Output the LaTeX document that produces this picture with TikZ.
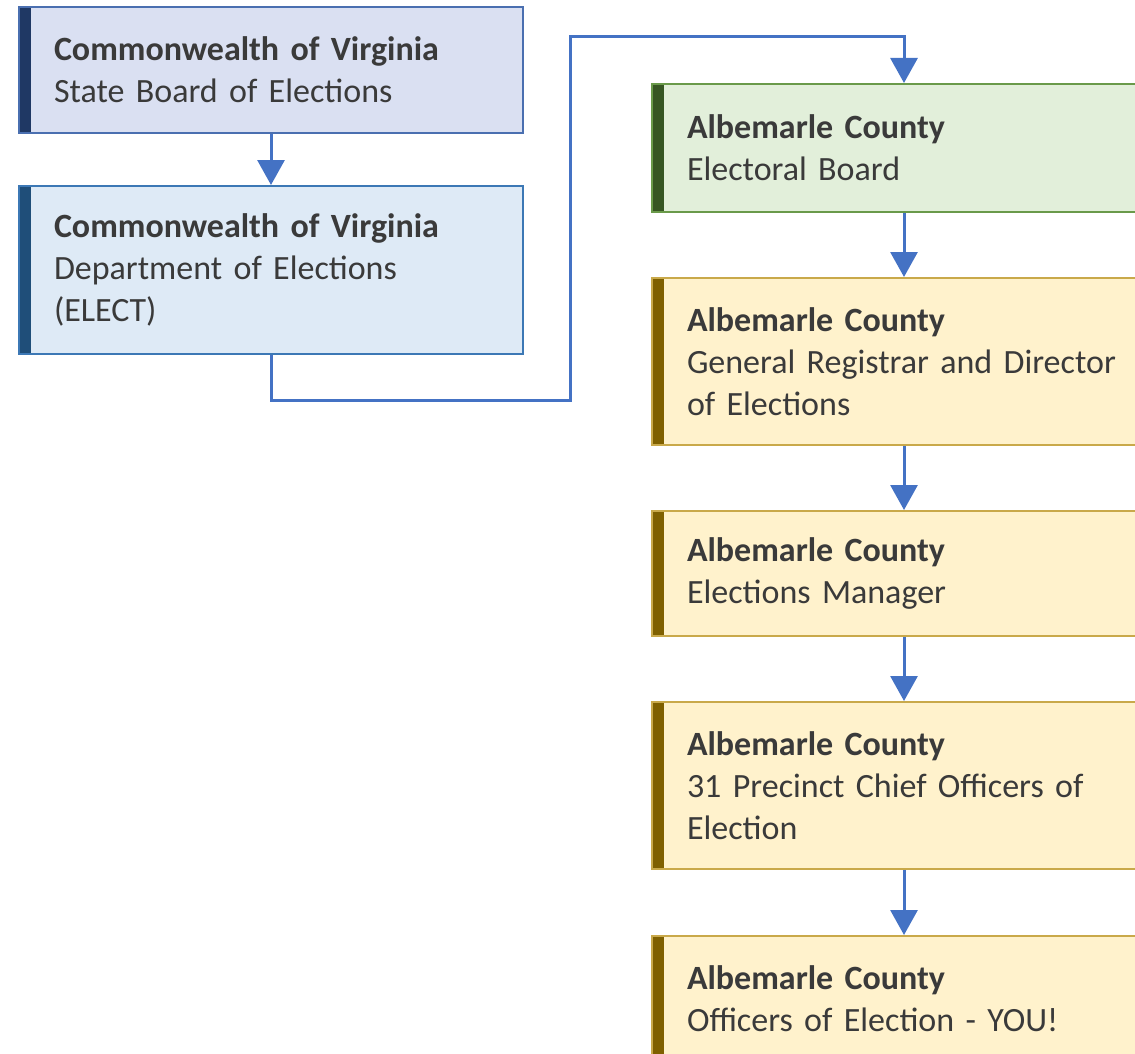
\documentclass[tikz,border=0pt]{standalone}
\usepackage{fontspec}
\setmainfont{Carlito}
\usetikzlibrary{arrows.meta}
\definecolor{txt}{HTML}{3A3A3A}
\definecolor{conn}{HTML}{4472C4}
\definecolor{fillA}{HTML}{DAE0F2}\definecolor{edgeA}{HTML}{4A6FB0}\definecolor{barA}{HTML}{1F3864}
\definecolor{fillB}{HTML}{DEEAF6}\definecolor{edgeB}{HTML}{3C78B5}\definecolor{barB}{HTML}{1F4E79}
\definecolor{fillG}{HTML}{E2EFDA}\definecolor{edgeG}{HTML}{6A9A4A}\definecolor{barG}{HTML}{375623}
\definecolor{fillY}{HTML}{FFF2CC}\definecolor{edgeY}{HTML}{C9A94A}\definecolor{barY}{HTML}{7F6000}
\tikzset{
  orgbox/.style n args={3}{draw=#2, fill=#1, line width=2pt, anchor=north west,
    minimum width=504pt, text width=434pt, align=left, inner xsep=35pt, inner ysep=0pt,
    text=txt, font=\fontsize{34}{42}\selectfont,
    path picture={\fill[#3] (path picture bounding box.north west) rectangle ([xshift=12pt]path picture bounding box.south west);}},
  conn/.style={draw=conn, line width=3pt, -{Triangle[width=27pt,length=25pt]}}
}
\begin{document}
\begin{tikzpicture}[x=1pt,y=1pt]
\useasboundingbox (0,0) rectangle (1135,-1054);
\clip (0,0) rectangle (1135,-1054);
\node[orgbox={fillA}{edgeA}{barA}, minimum height=126pt] (sbe) at (18,-6)
  {\textbf{Commonwealth of Virginia}\\State Board of Elections};
\node[orgbox={fillB}{edgeB}{barB}, minimum height=168pt] (elect) at (18,-185)
  {\textbf{Commonwealth of Virginia}\\Department of Elections\\(ELECT)};
\node[orgbox={fillG}{edgeG}{barG}, minimum height=128pt] (eb) at (651,-83)
  {\textbf{Albemarle County}\\Electoral Board};
\node[orgbox={fillY}{edgeY}{barY}, minimum height=167pt] (gr) at (651,-277)
  {\textbf{Albemarle County}\\General Registrar and Director\\of Elections};
\node[orgbox={fillY}{edgeY}{barY}, minimum height=125pt] (em) at (651,-510)
  {\textbf{Albemarle County}\\Elections Manager};
\node[orgbox={fillY}{edgeY}{barY}, minimum height=167pt] (pco) at (651,-701)
  {\textbf{Albemarle County}\\31 Precinct Chief Officers of\\Election};
\node[orgbox={fillY}{edgeY}{barY}, minimum height=126pt] (oe) at (651,-935)
  {\textbf{Albemarle County}\\Officers of Election - YOU!};
\coordinate (k1) at (570,-400);
\coordinate (k2) at (570,-37);
\draw[conn] (sbe.south) -- (elect.north);
\draw[conn] (elect.south) |- (k1) -- (k2) -| (eb.north);
\draw[conn] (eb.south) -- (gr.north);
\draw[conn] (gr.south) -- (em.north);
\draw[conn] (em.south) -- (pco.north);
\draw[conn] (pco.south) -- (oe.north);
\end{tikzpicture}
\end{document}
